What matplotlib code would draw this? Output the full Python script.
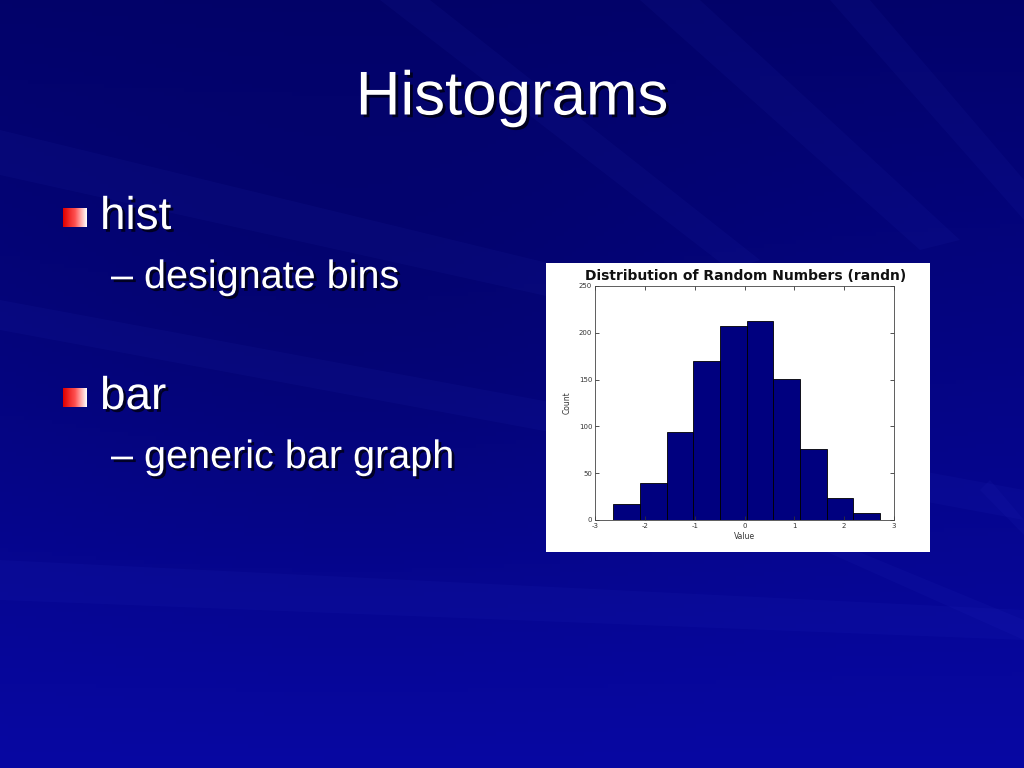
import numpy as np
import matplotlib
matplotlib.use("Agg")
import matplotlib.pyplot as plt
from matplotlib.patches import Rectangle, Polygon
from matplotlib.colors import LinearSegmentedColormap
import matplotlib.patheffects as pe

plt.rcParams["axes.unicode_minus"] = False

# ---- data ----
bin_edges = [-2.633, -2.098, -1.563, -1.028, -0.493, 0.042, 0.577, 1.112, 1.647, 2.182, 2.717]
counts = [17, 40, 94, 170, 207, 213, 151, 76, 24, 8]
x_ticks = [-3, -2, -1, 0, 1, 2, 3]
y_ticks = [0, 50, 100, 150, 200, 250]
slide_title = "Histograms"
bullets = ["hist", "bar"]
sub_bullets = ["designate bins", "generic bar graph"]

W, H = 1024, 768
fig = plt.figure(figsize=(W / 100, H / 100), dpi=100)

# ---- background ----
bg = fig.add_axes([0, 0, 1, 1])
bg.set_xlim(0, W)
bg.set_ylim(H, 0)
bg.axis("off")
yy, xx = np.mgrid[0:H:4, 0:W:4]
t = yy / H
top = np.array([0.01, 0.01, 0.42])
bot = np.array([0.03, 0.03, 0.64])
img = top[None, None, :] * (1 - t[..., None]) + bot[None, None, :] * t[..., None]
d = np.exp(-(((xx - 350) / 420.0) ** 2 + ((yy - 330) / 260.0) ** 2))
img = img * (1 - 0.12 * d[..., None])
bg.imshow(np.clip(img, 0, 1), extent=[0, W, H, 0], aspect="auto", zorder=0)

streaks = [
    [(0, 130), (0, 175), (700, 330), (700, 300)],
    [(0, 300), (0, 330), (1024, 520), (1024, 490)],
    [(0, 560), (0, 600), (1024, 640), (1024, 610)],
    [(380, 0), (430, 0), (760, 260), (730, 270)],
    [(640, 0), (700, 0), (960, 240), (920, 250)],
    [(830, 0), (870, 0), (1024, 180), (1024, 220)],
    [(800, 540), (830, 540), (1024, 620), (1024, 640)],
    [(980, 490), (990, 480), (1024, 520), (1024, 535)],
]
for s in streaks:
    bg.add_patch(Polygon(s, closed=True, facecolor=(0.25, 0.3, 0.9), alpha=0.06,
                         edgecolor="none", zorder=1))

def shadow():
    return [pe.SimplePatchShadow(offset=(2, -2), shadow_rgbFace="black", alpha=0.7), pe.Normal()]

font = "Liberation Sans"
t1 = bg.text(512, 99, slide_title, ha="center", va="center", color="white",
             fontsize=44.5, family=font, zorder=5)
t1.set_path_effects(shadow())

bullet_y = [229, 409]
sub_y = [288, 468]
grad = np.linspace(0, 1, 50)[None, :]
cmap_b = LinearSegmentedColormap.from_list("b", ["#e00000", "#ff5050", "#ffffff"])
for lbl, by in zip(bullets, bullet_y):
    bg.imshow(grad, cmap=cmap_b, extent=[63, 87, by - 2, by - 21], aspect="auto", zorder=4)
    tx = bg.text(100, by, lbl, ha="left", va="baseline", color="white",
                 fontsize=33, family=font, zorder=5)
    tx.set_path_effects(shadow())
for lbl, sy in zip(sub_bullets, sub_y):
    tx = bg.text(111, sy, "\u2013 " + lbl, ha="left", va="baseline", color="white",
                 fontsize=28.5, family=font, zorder=5)
    tx.set_path_effects(shadow())

# ---- white chart panel ----
bg.add_patch(Rectangle((546, 263), 384, 289, facecolor="white", edgecolor="none", zorder=6))

ax = fig.add_axes([595 / W, 1 - 520 / H, (894 - 595) / W, (520 - 286) / H], zorder=10)
widths = np.diff(bin_edges)
ax.bar(bin_edges[:-1], counts, width=widths, align="edge", color="#00007f",
       edgecolor="black", linewidth=0.6)
ax.set_xlim(-3, 3)
ax.set_ylim(0, 250)
ax.set_xticks(x_ticks)
ax.set_yticks(y_ticks)
ax.tick_params(direction="in", length=3, width=0.6, labelsize=5, top=True, right=True,
               colors="#333333", pad=2)
for sp in ax.spines.values():
    sp.set_linewidth(0.6)
    sp.set_color("#444444")
ax.set_xlabel("Value", fontsize=5.5, labelpad=2, color="#333333")
ax.set_ylabel("Count", fontsize=5.5, labelpad=5, color="#333333")
fig.text(746 / W, 1 - 276 / H, "Distribution of Random Numbers (randn)", ha="center",
         va="center", fontsize=10, fontweight="bold", family="DejaVu Sans",
         color="#111111", zorder=11)

fig.savefig("out.png", dpi=100)
